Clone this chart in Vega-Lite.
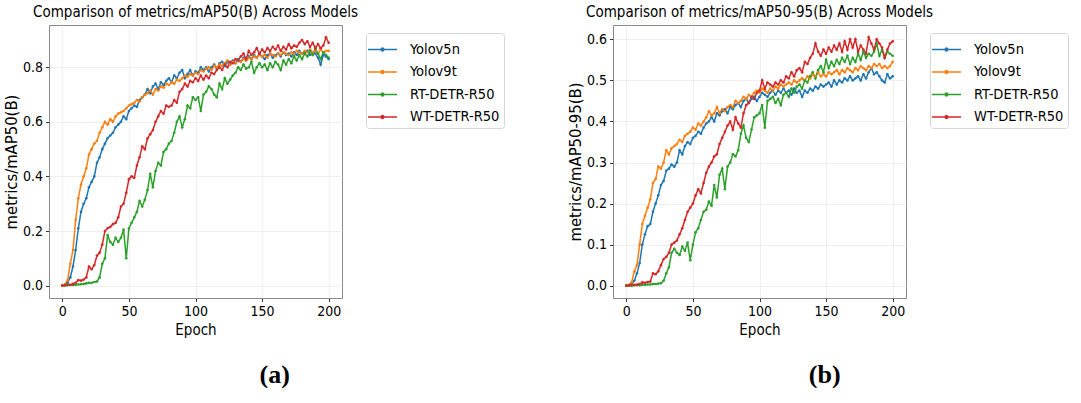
{
  "$schema": "https://vega.github.io/schema/vega-lite/v6.json",
  "background": "white",
  "padding": {"left": 2, "top": 4, "right": 0, "bottom": 0},
  "config": {
    "font": "DejaVu Sans Condensed, DejaVu Sans",
    "view": {"stroke": "#888", "strokeWidth": 1},
    "axis": {
      "labelFont": "DejaVu Sans Condensed, DejaVu Sans",
      "labelFontSize": 14,
      "labelColor": "black",
      "titleFont": "DejaVu Sans Condensed, DejaVu Sans",
      "titleFontSize": 15,
      "titleFontWeight": "normal",
      "titleColor": "black",
      "tickColor": "#333",
      "tickSize": 3.5,
      "labelPadding": 3,
      "domain": false,
      "gridColor": "#ebebeb",
      "gridWidth": 0.8
    },
    "title": {
      "font": "DejaVu Sans Condensed, DejaVu Sans",
      "fontSize": 15,
      "fontWeight": "normal",
      "color": "black",
      "offset": 5
    },
    "legend": {
      "orient": "none",
      "legendX": 317,
      "legendY": 8,
      "padding": 4,
      "strokeColor": "#d6d6d6",
      "fillColor": "white",
      "cornerRadius": 3,
      "labelFont": "DejaVu Sans Condensed, DejaVu Sans",
      "labelFontSize": 14.5,
      "labelColor": "black",
      "labelOffset": 15,
      "rowPadding": 3.5,
      "symbolType": "M-1.25,0H1.25M-0.12,0a0.12,0.12 0 1,0 0.24,0a0.12,0.12 0 1,0 -0.24,0",
      "symbolSize": 538,
      "symbolStrokeWidth": 1.5
    }
  },
  "datasets": {
    "runs": [
      {"e":0,"m":"Yolov5n","a":0.000,"b":0.000},{"e":2,"m":"Yolov5n","a":0.002,"b":0.001},{"e":4,"m":"Yolov5n","a":0.010,"b":0.004},{"e":6,"m":"Yolov5n","a":0.030,"b":0.012},{"e":8,"m":"Yolov5n","a":0.070,"b":0.030},{"e":10,"m":"Yolov5n","a":0.130,"b":0.055},{"e":12,"m":"Yolov5n","a":0.210,"b":0.100},{"e":14,"m":"Yolov5n","a":0.270,"b":0.125},{"e":16,"m":"Yolov5n","a":0.300,"b":0.145},{"e":18,"m":"Yolov5n","a":0.320,"b":0.150},
      {"e":20,"m":"Yolov5n","a":0.360,"b":0.180},{"e":22,"m":"Yolov5n","a":0.380,"b":0.200},{"e":24,"m":"Yolov5n","a":0.400,"b":0.220},{"e":26,"m":"Yolov5n","a":0.450,"b":0.245},{"e":28,"m":"Yolov5n","a":0.470,"b":0.255},{"e":30,"m":"Yolov5n","a":0.500,"b":0.280},{"e":32,"m":"Yolov5n","a":0.520,"b":0.285},{"e":34,"m":"Yolov5n","a":0.540,"b":0.295},{"e":36,"m":"Yolov5n","a":0.550,"b":0.290},{"e":38,"m":"Yolov5n","a":0.560,"b":0.300},
      {"e":40,"m":"Yolov5n","a":0.580,"b":0.330},{"e":42,"m":"Yolov5n","a":0.590,"b":0.320},{"e":44,"m":"Yolov5n","a":0.600,"b":0.340},{"e":46,"m":"Yolov5n","a":0.620,"b":0.350},{"e":48,"m":"Yolov5n","a":0.610,"b":0.345},{"e":50,"m":"Yolov5n","a":0.640,"b":0.360},{"e":52,"m":"Yolov5n","a":0.650,"b":0.365},{"e":54,"m":"Yolov5n","a":0.660,"b":0.375},{"e":56,"m":"Yolov5n","a":0.655,"b":0.370},{"e":58,"m":"Yolov5n","a":0.680,"b":0.385},
      {"e":60,"m":"Yolov5n","a":0.690,"b":0.395},{"e":62,"m":"Yolov5n","a":0.700,"b":0.400},{"e":64,"m":"Yolov5n","a":0.720,"b":0.410},{"e":66,"m":"Yolov5n","a":0.705,"b":0.400},{"e":68,"m":"Yolov5n","a":0.730,"b":0.420},{"e":70,"m":"Yolov5n","a":0.740,"b":0.415},{"e":72,"m":"Yolov5n","a":0.720,"b":0.425},{"e":74,"m":"Yolov5n","a":0.745,"b":0.430},{"e":76,"m":"Yolov5n","a":0.735,"b":0.420},{"e":78,"m":"Yolov5n","a":0.750,"b":0.435},
      {"e":80,"m":"Yolov5n","a":0.760,"b":0.430},{"e":82,"m":"Yolov5n","a":0.745,"b":0.440},{"e":84,"m":"Yolov5n","a":0.770,"b":0.445},{"e":86,"m":"Yolov5n","a":0.760,"b":0.435},{"e":88,"m":"Yolov5n","a":0.780,"b":0.450},{"e":90,"m":"Yolov5n","a":0.790,"b":0.455},{"e":92,"m":"Yolov5n","a":0.760,"b":0.445},{"e":94,"m":"Yolov5n","a":0.775,"b":0.455},{"e":96,"m":"Yolov5n","a":0.790,"b":0.460},{"e":98,"m":"Yolov5n","a":0.770,"b":0.450},
      {"e":100,"m":"Yolov5n","a":0.785,"b":0.460},{"e":102,"m":"Yolov5n","a":0.780,"b":0.470},{"e":104,"m":"Yolov5n","a":0.800,"b":0.465},{"e":106,"m":"Yolov5n","a":0.790,"b":0.460},{"e":108,"m":"Yolov5n","a":0.800,"b":0.470},{"e":110,"m":"Yolov5n","a":0.785,"b":0.475},{"e":112,"m":"Yolov5n","a":0.800,"b":0.465},{"e":114,"m":"Yolov5n","a":0.810,"b":0.475},{"e":116,"m":"Yolov5n","a":0.795,"b":0.470},{"e":118,"m":"Yolov5n","a":0.815,"b":0.480},
      {"e":120,"m":"Yolov5n","a":0.820,"b":0.470},{"e":122,"m":"Yolov5n","a":0.805,"b":0.475},{"e":124,"m":"Yolov5n","a":0.820,"b":0.465},{"e":126,"m":"Yolov5n","a":0.810,"b":0.480},{"e":128,"m":"Yolov5n","a":0.825,"b":0.470},{"e":130,"m":"Yolov5n","a":0.815,"b":0.475},{"e":132,"m":"Yolov5n","a":0.830,"b":0.460},{"e":134,"m":"Yolov5n","a":0.820,"b":0.475},{"e":136,"m":"Yolov5n","a":0.835,"b":0.470},{"e":138,"m":"Yolov5n","a":0.825,"b":0.480},
      {"e":140,"m":"Yolov5n","a":0.840,"b":0.475},{"e":142,"m":"Yolov5n","a":0.830,"b":0.485},{"e":144,"m":"Yolov5n","a":0.845,"b":0.480},{"e":146,"m":"Yolov5n","a":0.835,"b":0.490},{"e":148,"m":"Yolov5n","a":0.850,"b":0.485},{"e":150,"m":"Yolov5n","a":0.840,"b":0.490},{"e":152,"m":"Yolov5n","a":0.830,"b":0.495},{"e":154,"m":"Yolov5n","a":0.845,"b":0.485},{"e":156,"m":"Yolov5n","a":0.850,"b":0.500},{"e":158,"m":"Yolov5n","a":0.835,"b":0.490},
      {"e":160,"m":"Yolov5n","a":0.845,"b":0.500},{"e":162,"m":"Yolov5n","a":0.850,"b":0.495},{"e":164,"m":"Yolov5n","a":0.840,"b":0.505},{"e":166,"m":"Yolov5n","a":0.855,"b":0.500},{"e":168,"m":"Yolov5n","a":0.845,"b":0.510},{"e":170,"m":"Yolov5n","a":0.850,"b":0.500},{"e":172,"m":"Yolov5n","a":0.840,"b":0.505},{"e":174,"m":"Yolov5n","a":0.855,"b":0.510},{"e":176,"m":"Yolov5n","a":0.845,"b":0.500},{"e":178,"m":"Yolov5n","a":0.860,"b":0.515},
      {"e":180,"m":"Yolov5n","a":0.850,"b":0.505},{"e":182,"m":"Yolov5n","a":0.855,"b":0.520},{"e":184,"m":"Yolov5n","a":0.860,"b":0.530},{"e":186,"m":"Yolov5n","a":0.845,"b":0.515},{"e":188,"m":"Yolov5n","a":0.855,"b":0.520},{"e":190,"m":"Yolov5n","a":0.850,"b":0.510},{"e":192,"m":"Yolov5n","a":0.835,"b":0.500},{"e":194,"m":"Yolov5n","a":0.810,"b":0.495},{"e":196,"m":"Yolov5n","a":0.845,"b":0.515},{"e":198,"m":"Yolov5n","a":0.840,"b":0.505},
      {"e":200,"m":"Yolov5n","a":0.830,"b":0.510},
      {"e":0,"m":"Yolov9t","a":0.000,"b":0.000},{"e":2,"m":"Yolov9t","a":0.005,"b":0.002},{"e":4,"m":"Yolov9t","a":0.020,"b":0.008},{"e":6,"m":"Yolov9t","a":0.080,"b":0.035},{"e":8,"m":"Yolov9t","a":0.130,"b":0.050},{"e":10,"m":"Yolov9t","a":0.240,"b":0.100},{"e":12,"m":"Yolov9t","a":0.320,"b":0.150},{"e":14,"m":"Yolov9t","a":0.370,"b":0.170},{"e":16,"m":"Yolov9t","a":0.400,"b":0.190},{"e":18,"m":"Yolov9t","a":0.430,"b":0.210},
      {"e":20,"m":"Yolov9t","a":0.480,"b":0.250},{"e":22,"m":"Yolov9t","a":0.500,"b":0.260},{"e":24,"m":"Yolov9t","a":0.520,"b":0.290},{"e":26,"m":"Yolov9t","a":0.530,"b":0.285},{"e":28,"m":"Yolov9t","a":0.560,"b":0.300},{"e":30,"m":"Yolov9t","a":0.580,"b":0.330},{"e":32,"m":"Yolov9t","a":0.600,"b":0.320},{"e":34,"m":"Yolov9t","a":0.590,"b":0.335},{"e":36,"m":"Yolov9t","a":0.610,"b":0.340},{"e":38,"m":"Yolov9t","a":0.600,"b":0.345},
      {"e":40,"m":"Yolov9t","a":0.620,"b":0.355},{"e":42,"m":"Yolov9t","a":0.630,"b":0.350},{"e":44,"m":"Yolov9t","a":0.635,"b":0.365},{"e":46,"m":"Yolov9t","a":0.640,"b":0.370},{"e":48,"m":"Yolov9t","a":0.650,"b":0.375},{"e":50,"m":"Yolov9t","a":0.660,"b":0.385},{"e":52,"m":"Yolov9t","a":0.665,"b":0.380},{"e":54,"m":"Yolov9t","a":0.670,"b":0.395},{"e":56,"m":"Yolov9t","a":0.680,"b":0.390},{"e":58,"m":"Yolov9t","a":0.675,"b":0.400},
      {"e":60,"m":"Yolov9t","a":0.690,"b":0.410},{"e":62,"m":"Yolov9t","a":0.700,"b":0.425},{"e":64,"m":"Yolov9t","a":0.705,"b":0.415},{"e":66,"m":"Yolov9t","a":0.715,"b":0.420},{"e":68,"m":"Yolov9t","a":0.700,"b":0.435},{"e":70,"m":"Yolov9t","a":0.720,"b":0.420},{"e":72,"m":"Yolov9t","a":0.715,"b":0.430},{"e":74,"m":"Yolov9t","a":0.730,"b":0.425},{"e":76,"m":"Yolov9t","a":0.725,"b":0.435},{"e":78,"m":"Yolov9t","a":0.740,"b":0.440},
      {"e":80,"m":"Yolov9t","a":0.735,"b":0.435},{"e":82,"m":"Yolov9t","a":0.745,"b":0.450},{"e":84,"m":"Yolov9t","a":0.740,"b":0.445},{"e":86,"m":"Yolov9t","a":0.755,"b":0.450},{"e":88,"m":"Yolov9t","a":0.750,"b":0.460},{"e":90,"m":"Yolov9t","a":0.760,"b":0.455},{"e":92,"m":"Yolov9t","a":0.770,"b":0.465},{"e":94,"m":"Yolov9t","a":0.765,"b":0.460},{"e":96,"m":"Yolov9t","a":0.775,"b":0.470},{"e":98,"m":"Yolov9t","a":0.770,"b":0.475},
      {"e":100,"m":"Yolov9t","a":0.780,"b":0.470},{"e":102,"m":"Yolov9t","a":0.775,"b":0.480},{"e":104,"m":"Yolov9t","a":0.790,"b":0.475},{"e":106,"m":"Yolov9t","a":0.785,"b":0.470},{"e":108,"m":"Yolov9t","a":0.795,"b":0.480},{"e":110,"m":"Yolov9t","a":0.800,"b":0.475},{"e":112,"m":"Yolov9t","a":0.790,"b":0.485},{"e":114,"m":"Yolov9t","a":0.805,"b":0.480},{"e":116,"m":"Yolov9t","a":0.800,"b":0.490},{"e":118,"m":"Yolov9t","a":0.810,"b":0.485},
      {"e":120,"m":"Yolov9t","a":0.805,"b":0.490},{"e":122,"m":"Yolov9t","a":0.815,"b":0.495},{"e":124,"m":"Yolov9t","a":0.825,"b":0.490},{"e":126,"m":"Yolov9t","a":0.810,"b":0.500},{"e":128,"m":"Yolov9t","a":0.820,"b":0.495},{"e":130,"m":"Yolov9t","a":0.815,"b":0.500},{"e":132,"m":"Yolov9t","a":0.825,"b":0.505},{"e":134,"m":"Yolov9t","a":0.820,"b":0.500},{"e":136,"m":"Yolov9t","a":0.830,"b":0.510},{"e":138,"m":"Yolov9t","a":0.825,"b":0.505},
      {"e":140,"m":"Yolov9t","a":0.835,"b":0.515},{"e":142,"m":"Yolov9t","a":0.830,"b":0.510},{"e":144,"m":"Yolov9t","a":0.840,"b":0.520},{"e":146,"m":"Yolov9t","a":0.835,"b":0.510},{"e":148,"m":"Yolov9t","a":0.845,"b":0.515},{"e":150,"m":"Yolov9t","a":0.840,"b":0.510},{"e":152,"m":"Yolov9t","a":0.845,"b":0.520},{"e":154,"m":"Yolov9t","a":0.835,"b":0.515},{"e":156,"m":"Yolov9t","a":0.850,"b":0.520},{"e":158,"m":"Yolov9t","a":0.845,"b":0.525},
      {"e":160,"m":"Yolov9t","a":0.840,"b":0.515},{"e":162,"m":"Yolov9t","a":0.850,"b":0.525},{"e":164,"m":"Yolov9t","a":0.845,"b":0.520},{"e":166,"m":"Yolov9t","a":0.855,"b":0.530},{"e":168,"m":"Yolov9t","a":0.850,"b":0.525},{"e":170,"m":"Yolov9t","a":0.845,"b":0.520},{"e":172,"m":"Yolov9t","a":0.855,"b":0.530},{"e":174,"m":"Yolov9t","a":0.850,"b":0.525},{"e":176,"m":"Yolov9t","a":0.860,"b":0.535},{"e":178,"m":"Yolov9t","a":0.855,"b":0.530},
      {"e":180,"m":"Yolov9t","a":0.850,"b":0.525},{"e":182,"m":"Yolov9t","a":0.860,"b":0.535},{"e":184,"m":"Yolov9t","a":0.855,"b":0.530},{"e":186,"m":"Yolov9t","a":0.865,"b":0.540},{"e":188,"m":"Yolov9t","a":0.855,"b":0.535},{"e":190,"m":"Yolov9t","a":0.860,"b":0.540},{"e":192,"m":"Yolov9t","a":0.850,"b":0.530},{"e":194,"m":"Yolov9t","a":0.865,"b":0.535},{"e":196,"m":"Yolov9t","a":0.855,"b":0.530},{"e":198,"m":"Yolov9t","a":0.860,"b":0.535},
      {"e":200,"m":"Yolov9t","a":0.860,"b":0.545},
      {"e":0,"m":"RT-DETR-R50","a":0.000,"b":0.000},{"e":2,"m":"RT-DETR-R50","a":0.000,"b":0.000},{"e":4,"m":"RT-DETR-R50","a":0.001,"b":0.000},{"e":6,"m":"RT-DETR-R50","a":0.002,"b":0.001},{"e":8,"m":"RT-DETR-R50","a":0.002,"b":0.001},{"e":10,"m":"RT-DETR-R50","a":0.003,"b":0.001},{"e":12,"m":"RT-DETR-R50","a":0.004,"b":0.002},{"e":14,"m":"RT-DETR-R50","a":0.005,"b":0.002},{"e":16,"m":"RT-DETR-R50","a":0.006,"b":0.003},{"e":18,"m":"RT-DETR-R50","a":0.008,"b":0.003},
      {"e":20,"m":"RT-DETR-R50","a":0.010,"b":0.004},{"e":22,"m":"RT-DETR-R50","a":0.010,"b":0.004},{"e":24,"m":"RT-DETR-R50","a":0.013,"b":0.005},{"e":26,"m":"RT-DETR-R50","a":0.015,"b":0.006},{"e":28,"m":"RT-DETR-R50","a":0.030,"b":0.012},{"e":30,"m":"RT-DETR-R50","a":0.080,"b":0.030},{"e":32,"m":"RT-DETR-R50","a":0.100,"b":0.045},{"e":34,"m":"RT-DETR-R50","a":0.185,"b":0.080},{"e":36,"m":"RT-DETR-R50","a":0.160,"b":0.090},{"e":38,"m":"RT-DETR-R50","a":0.150,"b":0.080},
      {"e":40,"m":"RT-DETR-R50","a":0.175,"b":0.075},{"e":42,"m":"RT-DETR-R50","a":0.160,"b":0.095},{"e":44,"m":"RT-DETR-R50","a":0.175,"b":0.085},{"e":46,"m":"RT-DETR-R50","a":0.205,"b":0.105},{"e":48,"m":"RT-DETR-R50","a":0.100,"b":0.062},{"e":50,"m":"RT-DETR-R50","a":0.210,"b":0.100},{"e":52,"m":"RT-DETR-R50","a":0.230,"b":0.130},{"e":54,"m":"RT-DETR-R50","a":0.250,"b":0.140},{"e":56,"m":"RT-DETR-R50","a":0.270,"b":0.160},{"e":58,"m":"RT-DETR-R50","a":0.310,"b":0.180},
      {"e":60,"m":"RT-DETR-R50","a":0.290,"b":0.185},{"e":62,"m":"RT-DETR-R50","a":0.315,"b":0.205},{"e":64,"m":"RT-DETR-R50","a":0.350,"b":0.195},{"e":66,"m":"RT-DETR-R50","a":0.410,"b":0.245},{"e":68,"m":"RT-DETR-R50","a":0.360,"b":0.215},{"e":70,"m":"RT-DETR-R50","a":0.420,"b":0.270},{"e":72,"m":"RT-DETR-R50","a":0.450,"b":0.285},{"e":74,"m":"RT-DETR-R50","a":0.440,"b":0.235},{"e":76,"m":"RT-DETR-R50","a":0.490,"b":0.290},{"e":78,"m":"RT-DETR-R50","a":0.500,"b":0.300},
      {"e":80,"m":"RT-DETR-R50","a":0.520,"b":0.320},{"e":82,"m":"RT-DETR-R50","a":0.530,"b":0.315},{"e":84,"m":"RT-DETR-R50","a":0.560,"b":0.330},{"e":86,"m":"RT-DETR-R50","a":0.600,"b":0.370},{"e":88,"m":"RT-DETR-R50","a":0.620,"b":0.390},{"e":90,"m":"RT-DETR-R50","a":0.580,"b":0.360},{"e":92,"m":"RT-DETR-R50","a":0.610,"b":0.350},{"e":94,"m":"RT-DETR-R50","a":0.660,"b":0.380},{"e":96,"m":"RT-DETR-R50","a":0.650,"b":0.410},{"e":98,"m":"RT-DETR-R50","a":0.690,"b":0.415},
      {"e":100,"m":"RT-DETR-R50","a":0.680,"b":0.420},{"e":102,"m":"RT-DETR-R50","a":0.690,"b":0.440},{"e":104,"m":"RT-DETR-R50","a":0.640,"b":0.385},{"e":106,"m":"RT-DETR-R50","a":0.700,"b":0.450},{"e":108,"m":"RT-DETR-R50","a":0.710,"b":0.455},{"e":110,"m":"RT-DETR-R50","a":0.730,"b":0.460},{"e":112,"m":"RT-DETR-R50","a":0.720,"b":0.445},{"e":114,"m":"RT-DETR-R50","a":0.700,"b":0.455},{"e":116,"m":"RT-DETR-R50","a":0.690,"b":0.440},{"e":118,"m":"RT-DETR-R50","a":0.740,"b":0.465},
      {"e":120,"m":"RT-DETR-R50","a":0.720,"b":0.470},{"e":122,"m":"RT-DETR-R50","a":0.760,"b":0.460},{"e":124,"m":"RT-DETR-R50","a":0.740,"b":0.480},{"e":126,"m":"RT-DETR-R50","a":0.755,"b":0.470},{"e":128,"m":"RT-DETR-R50","a":0.770,"b":0.485},{"e":130,"m":"RT-DETR-R50","a":0.780,"b":0.490},{"e":132,"m":"RT-DETR-R50","a":0.800,"b":0.480},{"e":134,"m":"RT-DETR-R50","a":0.790,"b":0.500},{"e":136,"m":"RT-DETR-R50","a":0.810,"b":0.495},{"e":138,"m":"RT-DETR-R50","a":0.795,"b":0.510},
      {"e":140,"m":"RT-DETR-R50","a":0.800,"b":0.520},{"e":142,"m":"RT-DETR-R50","a":0.820,"b":0.505},{"e":144,"m":"RT-DETR-R50","a":0.780,"b":0.525},{"e":146,"m":"RT-DETR-R50","a":0.800,"b":0.535},{"e":148,"m":"RT-DETR-R50","a":0.815,"b":0.520},{"e":150,"m":"RT-DETR-R50","a":0.800,"b":0.550},{"e":152,"m":"RT-DETR-R50","a":0.810,"b":0.530},{"e":154,"m":"RT-DETR-R50","a":0.790,"b":0.545},{"e":156,"m":"RT-DETR-R50","a":0.815,"b":0.535},{"e":158,"m":"RT-DETR-R50","a":0.800,"b":0.550},
      {"e":160,"m":"RT-DETR-R50","a":0.820,"b":0.540},{"e":162,"m":"RT-DETR-R50","a":0.810,"b":0.555},{"e":164,"m":"RT-DETR-R50","a":0.790,"b":0.545},{"e":166,"m":"RT-DETR-R50","a":0.825,"b":0.560},{"e":168,"m":"RT-DETR-R50","a":0.810,"b":0.540},{"e":170,"m":"RT-DETR-R50","a":0.830,"b":0.555},{"e":172,"m":"RT-DETR-R50","a":0.815,"b":0.545},{"e":174,"m":"RT-DETR-R50","a":0.840,"b":0.565},{"e":176,"m":"RT-DETR-R50","a":0.825,"b":0.550},{"e":178,"m":"RT-DETR-R50","a":0.845,"b":0.570},
      {"e":180,"m":"RT-DETR-R50","a":0.830,"b":0.555},{"e":182,"m":"RT-DETR-R50","a":0.850,"b":0.565},{"e":184,"m":"RT-DETR-R50","a":0.840,"b":0.560},{"e":186,"m":"RT-DETR-R50","a":0.860,"b":0.570},{"e":188,"m":"RT-DETR-R50","a":0.845,"b":0.590},{"e":190,"m":"RT-DETR-R50","a":0.870,"b":0.560},{"e":192,"m":"RT-DETR-R50","a":0.850,"b":0.575},{"e":194,"m":"RT-DETR-R50","a":0.830,"b":0.555},{"e":196,"m":"RT-DETR-R50","a":0.855,"b":0.570},{"e":198,"m":"RT-DETR-R50","a":0.845,"b":0.565},
      {"e":200,"m":"RT-DETR-R50","a":0.835,"b":0.560},
      {"e":0,"m":"WT-DETR-R50","a":0.000,"b":0.000},{"e":2,"m":"WT-DETR-R50","a":0.002,"b":0.001},{"e":4,"m":"WT-DETR-R50","a":0.004,"b":0.002},{"e":6,"m":"WT-DETR-R50","a":0.003,"b":0.002},{"e":8,"m":"WT-DETR-R50","a":0.006,"b":0.003},{"e":10,"m":"WT-DETR-R50","a":0.010,"b":0.004},{"e":12,"m":"WT-DETR-R50","a":0.020,"b":0.008},{"e":14,"m":"WT-DETR-R50","a":0.018,"b":0.007},{"e":16,"m":"WT-DETR-R50","a":0.022,"b":0.009},{"e":18,"m":"WT-DETR-R50","a":0.030,"b":0.010},
      {"e":20,"m":"WT-DETR-R50","a":0.070,"b":0.030},{"e":22,"m":"WT-DETR-R50","a":0.060,"b":0.028},{"e":24,"m":"WT-DETR-R50","a":0.075,"b":0.035},{"e":26,"m":"WT-DETR-R50","a":0.110,"b":0.050},{"e":28,"m":"WT-DETR-R50","a":0.120,"b":0.065},{"e":30,"m":"WT-DETR-R50","a":0.150,"b":0.070},{"e":32,"m":"WT-DETR-R50","a":0.200,"b":0.080},{"e":34,"m":"WT-DETR-R50","a":0.210,"b":0.100},{"e":36,"m":"WT-DETR-R50","a":0.215,"b":0.105},{"e":38,"m":"WT-DETR-R50","a":0.225,"b":0.110},
      {"e":40,"m":"WT-DETR-R50","a":0.230,"b":0.125},{"e":42,"m":"WT-DETR-R50","a":0.250,"b":0.140},{"e":44,"m":"WT-DETR-R50","a":0.290,"b":0.160},{"e":46,"m":"WT-DETR-R50","a":0.300,"b":0.180},{"e":48,"m":"WT-DETR-R50","a":0.340,"b":0.190},{"e":50,"m":"WT-DETR-R50","a":0.390,"b":0.200},{"e":52,"m":"WT-DETR-R50","a":0.400,"b":0.220},{"e":54,"m":"WT-DETR-R50","a":0.395,"b":0.235},{"e":56,"m":"WT-DETR-R50","a":0.440,"b":0.225},{"e":58,"m":"WT-DETR-R50","a":0.470,"b":0.250},
      {"e":60,"m":"WT-DETR-R50","a":0.510,"b":0.275},{"e":62,"m":"WT-DETR-R50","a":0.500,"b":0.290},{"e":64,"m":"WT-DETR-R50","a":0.540,"b":0.300},{"e":66,"m":"WT-DETR-R50","a":0.555,"b":0.315},{"e":68,"m":"WT-DETR-R50","a":0.570,"b":0.320},{"e":70,"m":"WT-DETR-R50","a":0.600,"b":0.345},{"e":72,"m":"WT-DETR-R50","a":0.620,"b":0.360},{"e":74,"m":"WT-DETR-R50","a":0.640,"b":0.375},{"e":76,"m":"WT-DETR-R50","a":0.630,"b":0.390},{"e":78,"m":"WT-DETR-R50","a":0.660,"b":0.400},
      {"e":80,"m":"WT-DETR-R50","a":0.655,"b":0.380},{"e":82,"m":"WT-DETR-R50","a":0.660,"b":0.410},{"e":84,"m":"WT-DETR-R50","a":0.680,"b":0.395},{"e":86,"m":"WT-DETR-R50","a":0.670,"b":0.385},{"e":88,"m":"WT-DETR-R50","a":0.710,"b":0.420},{"e":90,"m":"WT-DETR-R50","a":0.720,"b":0.440},{"e":92,"m":"WT-DETR-R50","a":0.740,"b":0.445},{"e":94,"m":"WT-DETR-R50","a":0.730,"b":0.460},{"e":96,"m":"WT-DETR-R50","a":0.750,"b":0.455},{"e":98,"m":"WT-DETR-R50","a":0.745,"b":0.470},
      {"e":100,"m":"WT-DETR-R50","a":0.760,"b":0.475},{"e":102,"m":"WT-DETR-R50","a":0.750,"b":0.500},{"e":104,"m":"WT-DETR-R50","a":0.770,"b":0.480},{"e":106,"m":"WT-DETR-R50","a":0.755,"b":0.495},{"e":108,"m":"WT-DETR-R50","a":0.770,"b":0.490},{"e":110,"m":"WT-DETR-R50","a":0.760,"b":0.485},{"e":112,"m":"WT-DETR-R50","a":0.780,"b":0.495},{"e":114,"m":"WT-DETR-R50","a":0.775,"b":0.490},{"e":116,"m":"WT-DETR-R50","a":0.790,"b":0.500},{"e":118,"m":"WT-DETR-R50","a":0.800,"b":0.495},
      {"e":120,"m":"WT-DETR-R50","a":0.790,"b":0.510},{"e":122,"m":"WT-DETR-R50","a":0.810,"b":0.505},{"e":124,"m":"WT-DETR-R50","a":0.800,"b":0.520},{"e":126,"m":"WT-DETR-R50","a":0.820,"b":0.510},{"e":128,"m":"WT-DETR-R50","a":0.815,"b":0.525},{"e":130,"m":"WT-DETR-R50","a":0.830,"b":0.530},{"e":132,"m":"WT-DETR-R50","a":0.825,"b":0.520},{"e":134,"m":"WT-DETR-R50","a":0.840,"b":0.545},{"e":136,"m":"WT-DETR-R50","a":0.850,"b":0.540},{"e":138,"m":"WT-DETR-R50","a":0.830,"b":0.555},
      {"e":140,"m":"WT-DETR-R50","a":0.860,"b":0.565},{"e":142,"m":"WT-DETR-R50","a":0.845,"b":0.590},{"e":144,"m":"WT-DETR-R50","a":0.855,"b":0.570},{"e":146,"m":"WT-DETR-R50","a":0.870,"b":0.560},{"e":148,"m":"WT-DETR-R50","a":0.850,"b":0.575},{"e":150,"m":"WT-DETR-R50","a":0.865,"b":0.565},{"e":152,"m":"WT-DETR-R50","a":0.855,"b":0.580},{"e":154,"m":"WT-DETR-R50","a":0.870,"b":0.570},{"e":156,"m":"WT-DETR-R50","a":0.860,"b":0.585},{"e":158,"m":"WT-DETR-R50","a":0.875,"b":0.575},
      {"e":160,"m":"WT-DETR-R50","a":0.865,"b":0.590},{"e":162,"m":"WT-DETR-R50","a":0.880,"b":0.570},{"e":164,"m":"WT-DETR-R50","a":0.860,"b":0.595},{"e":166,"m":"WT-DETR-R50","a":0.875,"b":0.575},{"e":168,"m":"WT-DETR-R50","a":0.865,"b":0.600},{"e":170,"m":"WT-DETR-R50","a":0.885,"b":0.580},{"e":172,"m":"WT-DETR-R50","a":0.870,"b":0.600},{"e":174,"m":"WT-DETR-R50","a":0.880,"b":0.570},{"e":176,"m":"WT-DETR-R50","a":0.875,"b":0.585},{"e":178,"m":"WT-DETR-R50","a":0.890,"b":0.575},
      {"e":180,"m":"WT-DETR-R50","a":0.900,"b":0.565},{"e":182,"m":"WT-DETR-R50","a":0.885,"b":0.605},{"e":184,"m":"WT-DETR-R50","a":0.895,"b":0.590},{"e":186,"m":"WT-DETR-R50","a":0.875,"b":0.575},{"e":188,"m":"WT-DETR-R50","a":0.890,"b":0.600},{"e":190,"m":"WT-DETR-R50","a":0.870,"b":0.590},{"e":192,"m":"WT-DETR-R50","a":0.885,"b":0.580},{"e":194,"m":"WT-DETR-R50","a":0.870,"b":0.555},{"e":196,"m":"WT-DETR-R50","a":0.880,"b":0.575},{"e":198,"m":"WT-DETR-R50","a":0.910,"b":0.590},
      {"e":200,"m":"WT-DETR-R50","a":0.890,"b":0.595}
    ]
  },
  "resolve": {"legend": {"color": "independent"}, "scale": {"y": "independent"}},
  "spacing": 61,
  "hconcat": [
    {
      "title": {"text": "(a)", "orient": "bottom", "font": "Liberation Serif", "fontSize": 26, "fontWeight": "bold", "anchor": "middle", "offset": 24, "dx": 21},
      "vconcat": [
        {
          "width": 293,
          "height": 273,
          "title": {"text": "Comparison of metrics/mAP50(B) Across Models"},
          "data": {"name": "runs"},
          "mark": {"type": "line", "strokeWidth": 1.5, "point": {"filled": true, "size": 7}},
          "encoding": {
            "x": {"field": "e", "type": "quantitative", "title": "Epoch",
              "scale": {"domain": [-10, 210], "nice": false, "zero": false},
              "axis": {"values": [0, 50, 100, 150, 200], "titlePadding": 4}},
            "y": {"field": "a", "type": "quantitative", "title": "metrics/mAP50(B)",
              "scale": {"domain": [-0.0455, 0.955], "nice": false, "zero": false},
              "axis": {"values": [0, 0.2, 0.4, 0.6, 0.8], "format": ".1f", "titlePadding": 3, "titleFontSize": 16.5}},
            "color": {"field": "m", "type": "nominal", "sort": null,
              "scale": {"domain": ["Yolov5n", "Yolov9t", "RT-DETR-R50", "WT-DETR-R50"], "range": ["#1f77b4", "#ff7f0e", "#2ca02c", "#d62728"]},
              "legend": {"title": null}}
          }
        }
      ]
    },
    {
      "title": {"text": "(b)", "orient": "bottom", "font": "Liberation Serif", "fontSize": 26, "fontWeight": "bold", "anchor": "middle", "offset": 24, "dx": 7},
      "vconcat": [
        {
          "width": 293,
          "height": 273,
          "title": {"text": "Comparison of metrics/mAP50-95(B) Across Models"},
          "data": {"name": "runs"},
          "mark": {"type": "line", "strokeWidth": 1.5, "point": {"filled": true, "size": 7}},
          "encoding": {
            "x": {"field": "e", "type": "quantitative", "title": "Epoch",
              "scale": {"domain": [-10, 210], "nice": false, "zero": false},
              "axis": {"values": [0, 50, 100, 150, 200], "titlePadding": 4}},
            "y": {"field": "b", "type": "quantitative", "title": "metrics/mAP50-95(B)",
              "scale": {"domain": [-0.03, 0.635], "nice": false, "zero": false},
              "axis": {"values": [0, 0.1, 0.2, 0.3, 0.4, 0.5, 0.6], "format": ".1f", "titlePadding": 3, "titleFontSize": 16.5}},
            "color": {"field": "m", "type": "nominal", "sort": null,
              "scale": {"domain": ["Yolov5n", "Yolov9t", "RT-DETR-R50", "WT-DETR-R50"], "range": ["#1f77b4", "#ff7f0e", "#2ca02c", "#d62728"]},
              "legend": {"title": null}}
          }
        }
      ]
    }
  ]
}
